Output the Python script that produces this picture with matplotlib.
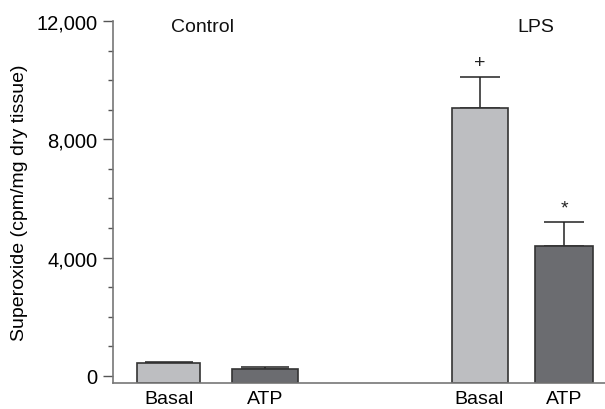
import matplotlib
matplotlib.use("Agg")
import matplotlib.pyplot as plt
from matplotlib.ticker import MultipleLocator, FuncFormatter

plt.rcParams['font.family'] = ['Liberation Sans', 'DejaVu Sans']

labels = ["Basal", "ATP", "Basal", "ATP"]
values = [440, 240, 9070, 4400]
err_up = [40, 80, 1050, 800]
positions = [168.5, 265, 479.5, 564]
colors = ["#bdbec1", "#6b6c70", "#bdbec1", "#6b6c70"]
group_names = ["Control", "LPS"]
group_pos = [202, 536]
marks = ["", "", "+", "*"]

fig = plt.figure(figsize=(6.05, 4.10), dpi=100)
ax = fig.add_axes([113/605, (410-384)/410, 1 - 113/605, (384-22)/410])
ymin = -237
ax.set_ylim(ymin, 12000)
ax.set_xlim(113, 605)

widths = [63, 66, 56, 58]
caps = [17, 17, 14.5, 14.5]
for p, v, e, c, w, cs in zip(positions, values, err_up, colors, widths, caps):
    ax.bar(p, v - ymin, bottom=ymin, width=w, color=c, edgecolor="#333333", linewidth=1.2, zorder=2)
    ax.errorbar(p, v, yerr=[[0], [e]], fmt="none", ecolor="#222222", elinewidth=1.1, capsize=cs, capthick=1.1, zorder=1)

for p, v, e, m in zip(positions, values, err_up, marks):
    if m:
        ax.text(p, v + e + 200, m, ha="center", va="bottom", fontsize=14, color="#222222")

for g, gp in zip(group_names, group_pos):
    ax.text(gp, 11800, g, ha="center", va="center", fontsize=14, color="#111111")

ax.set_xticks(positions)
ax.set_xticklabels(labels, fontsize=14)
ax.tick_params(axis="x", length=0, pad=5)
ax.yaxis.set_major_locator(MultipleLocator(4000))
ax.yaxis.set_minor_locator(MultipleLocator(1000))
ax.yaxis.set_major_formatter(FuncFormatter(lambda v, p: f"{int(v):,}"))
ax.tick_params(axis="y", which="major", length=7, width=1, color="#555555", labelsize=14.5, pad=4)
ax.tick_params(axis="y", which="minor", length=3.5, width=1, color="#555555")
ax.set_ylabel("Superoxide (cpm/mg dry tissue)", fontsize=14, labelpad=6)

for s in ["top", "right"]:
    ax.spines[s].set_visible(False)
ax.spines["left"].set_color("#777777")
ax.spines["bottom"].set_color("#777777")
ax.spines["left"].set_linewidth(1.2)
ax.spines["bottom"].set_linewidth(1.2)
ax.spines["left"].set_bounds(ymin, 12000)

fig.savefig("out.png", dpi=100)
